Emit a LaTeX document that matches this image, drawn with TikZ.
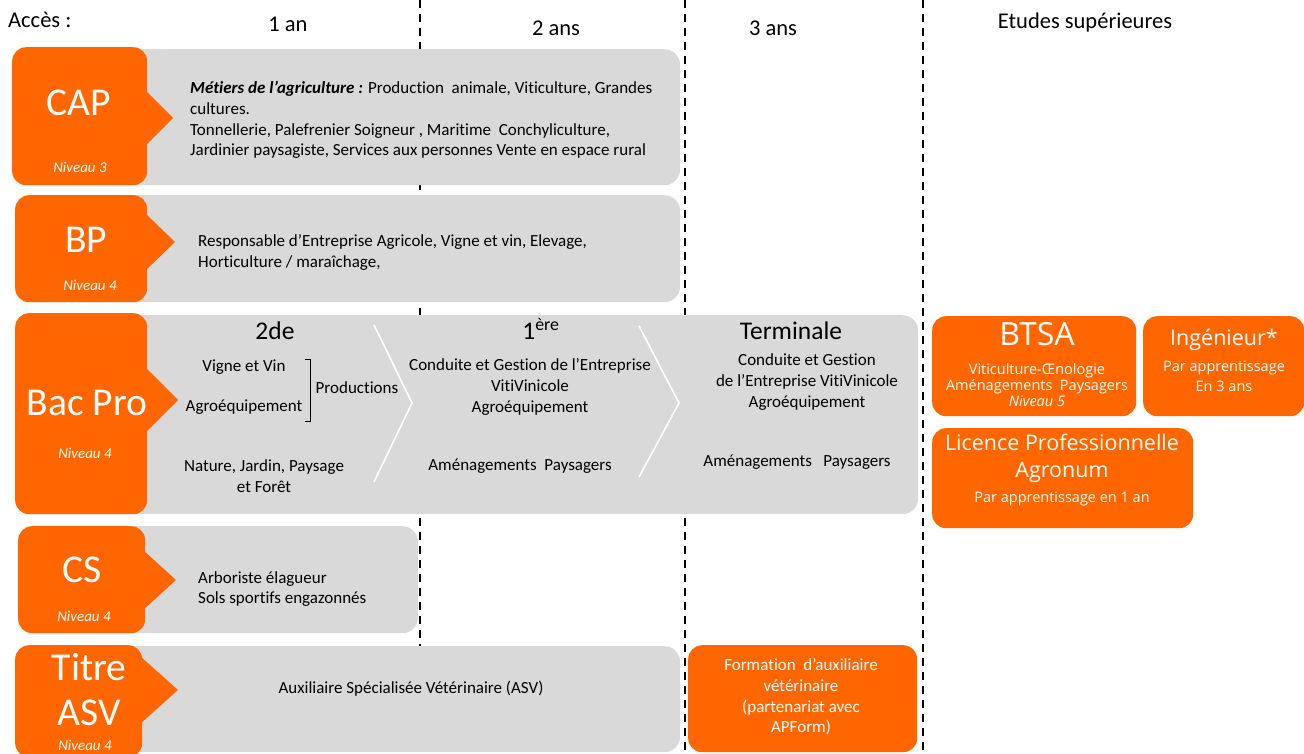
\documentclass[tikz,border=0pt]{standalone}
\usepackage{fontspec}
\setmainfont{Carlito}[Ligatures=NoCommon]
\newfontfamily\osans{Open Sans}
\definecolor{org}{HTML}{FF6600}
\definecolor{gry}{HTML}{D9D9D9}
\begin{document}
\begin{tikzpicture}[x=1pt,y=-1pt,
  gbox/.style={fill=gry, rounded corners=16pt, inner sep=0pt, anchor=north west},
  obox/.style={fill=org, rounded corners=14pt, inner sep=0pt, anchor=north west},
  big/.style={text=white, font=\fontsize{39.5}{42}\selectfont, inner sep=0pt},
  sup/.style={text=white, font=\osans\fontsize{21.5}{30}\selectfont, inner sep=0pt, align=center},
  btsa/.style={text=white, font=\osans\fontsize{32}{34}\selectfont, inner sep=0pt},
  niv/.style={text=white, font=\fontsize{15}{17}\selectfont\itshape, inner sep=0pt},
  body/.style={font=\fontsize{17}{20.7}\selectfont, inner sep=0pt, align=left},
  cbody/.style={font=\fontsize{17}{20.7}\selectfont, inner sep=0pt, align=center},
  wbody/.style={text=white, font=\osans\fontsize{14.5}{16.2}\selectfont, inner sep=0pt, align=center},
  head/.style={font=\fontsize{22.5}{24}\selectfont, inner sep=0pt},
  year/.style={font=\fontsize{25.5}{28}\selectfont, inner sep=0pt},
  sep/.style={dash pattern=on 8pt off 6pt, line width=1.8pt},
  chev/.style={white, line width=1.6pt},
]
\useasboundingbox (0,0) rectangle (1304,754);

% dashed column separators
\coordinate (s1t) at (420,0); \coordinate (s1b) at (420,754);
\coordinate (s2t) at (685,0); \coordinate (s2b) at (685,754);
\coordinate (s3t) at (923,0); \coordinate (s3b) at (923,754);
\draw[sep] (s1t) -- (s1b);
\draw[sep] (s2t) -- (s2b);
\draw[sep] (s3t) -- (s3b);

% headers
\node[head, anchor=west] (acces) at (8,20) {Accès :};
\node[head] (h1) at (288,24) {1 an};
\node[head] (h2) at (556,28) {2 ans};
\node[head] (h3) at (773,28) {3 ans};
\node[head] (h4) at (1085,23) {Etudes supérieures};

% ---------- CAP ----------
\node[gbox, minimum width=668pt, minimum height=136pt] (capg) at (12,49) {};
\node[obox, minimum width=135pt, minimum height=138pt] (capo) at (12,47) {};
\fill[org] (145,90) -- (173,118) -- (145,146) -- cycle;
\node[big] (capt) at (79,103) {CAP};
\node[niv] (capn) at (80,167) {Niveau 3};
\node[body, anchor=west] (capx) at (190,120) {\textbf{\textit{Métiers de l’agriculture :}} Production\ \ animale, Viticulture, Grandes\\cultures.\\Tonnellerie, Palefrenier Soigneur , Maritime\ \ Conchyliculture,\\Jardinier paysagiste, Services aux personnes Vente en espace rural};

% ---------- BP ----------
\node[gbox, minimum width=665pt, minimum height=107pt] (bpg) at (15,195) {};
\node[obox, minimum width=132pt, minimum height=107pt] (bpo) at (15,195) {};
\fill[org] (145,213) -- (175,242) -- (145,271) -- cycle;
\node[big] (bpt) at (86,240) {BP};
\node[niv] (bpn) at (90,285) {Niveau 4};
\node[body, anchor=west, font=\fontsize{17}{21}\selectfont] (bpx) at (198,252) {Responsable d’Entreprise Agricole, Vigne et vin, Elevage,\\Horticulture / maraîchage,};

% ---------- Bac Pro ----------
\node[gbox, minimum width=903pt, minimum height=199pt] (bacg) at (15,315) {};
\node[obox, minimum width=132pt, minimum height=201pt] (baco) at (15,313) {};
\fill[org] (145,367) -- (178,400) -- (145,433) -- cycle;
\node[big] (bact) at (87,403) {Bac Pro};
\node[niv] (bacn) at (85,453) {Niveau 4};
\draw[chev] (374,325) -- (412,403) -- (374,482);
\draw[chev] (639,326) -- (679,403) -- (639,477);
\node[year] (y1) at (275,331) {2de};
\node[year] (y2) at (541,329) {1\textsuperscript{ère}};
\node[year] (y3) at (791,331) {Terminale};
\node[body] (vv) at (244,367) {Vigne et Vin};
\node[body] (ag) at (244,407) {Agroéquipement};
\draw[line width=0.8pt] (305,359) -- (310,359) -- (310,421) -- (305,421);
\node[body] (prod) at (357,388) {Productions};
\node[cbody] (njp) at (264,476) {Nature, Jardin,\ Paysage\\et Forêt};
\node[cbody] (c1) at (530,387) {Conduite et Gestion de l’Entreprise\\VitiVinicole\\Agroéquipement};
\node[body] (ap1) at (520,466) {Aménagements\ \ Paysagers};
\node[cbody] (c2) at (807,382) {Conduite et Gestion\\de l’Entreprise VitiVinicole\\Agroéquipement};
\node[body] (ap2) at (797,462) {Aménagements\ \ \ Paysagers};

% ---------- CS ----------
\node[gbox, minimum width=400pt, minimum height=107pt] (csg) at (18,526) {};
\node[obox, minimum width=127pt, minimum height=107pt] (cso) at (18,526) {};
\fill[org] (143,550) -- (176,580) -- (143,610) -- cycle;
\node[big] (cst) at (82,570) {CS};
\node[niv] (csn) at (84,616) {Niveau 4};
\node[body, anchor=west] (csx) at (198,589) {Arboriste élagueur\\Sols sportifs engazonnés};

% ---------- Titre ASV ----------
\node[gbox, minimum width=665pt, minimum height=106pt] (asvg) at (15,646) {};
\node[obox, minimum width=127pt, minimum height=112pt] (asvo) at (15,645) {};
\fill[org] (140,656) -- (178,690) -- (140,724) -- cycle;
\node[big] (asvt1) at (89,667) {Titre};
\node[big] (asvt2) at (89,713) {ASV};
\node[niv] (asvn) at (85,745) {Niveau 4};
\node[body] (asvx) at (411,689) {Auxiliaire Spécialisée Vétérinaire (ASV)};

\node[obox, minimum width=229pt, minimum height=107pt] (form) at (688,645) {};
\node[text=white, cbody] (formx) at (801,697) {Formation\ \ d’auxiliaire\\vétérinaire\\(partenariat avec\\APForm)};

% ---------- Etudes supérieures ----------
\node[obox, minimum width=204pt, minimum height=100pt] (btsa) at (932,316) {};
\node[btsa] (btsat) at (1037,334) {BTSA};
\node[wbody] (btsax) at (1037,385) {Viticulture-Œnologie\\Aménagements\ \ Paysagers\\\textit{Niveau 5}};

\node[obox, minimum width=161pt, minimum height=100pt] (ing) at (1143,316) {};
\node[sup] (ingt) at (1224,340) {Ingénieur*};
\node[wbody, font=\osans\fontsize{14.5}{20}\selectfont] (ingx) at (1224,376) {Par apprentissage\\En 3 ans};

\node[obox, minimum width=261pt, minimum height=100pt] (lic) at (932,428) {};
\node[sup] (lict) at (1062,442) {Licence Professionnelle};
\node[sup] (lict2) at (1062,472) {Agronum};
\node[wbody] (licx) at (1062,499) {Par apprentissage en 1 an};
\end{tikzpicture}
\end{document}
